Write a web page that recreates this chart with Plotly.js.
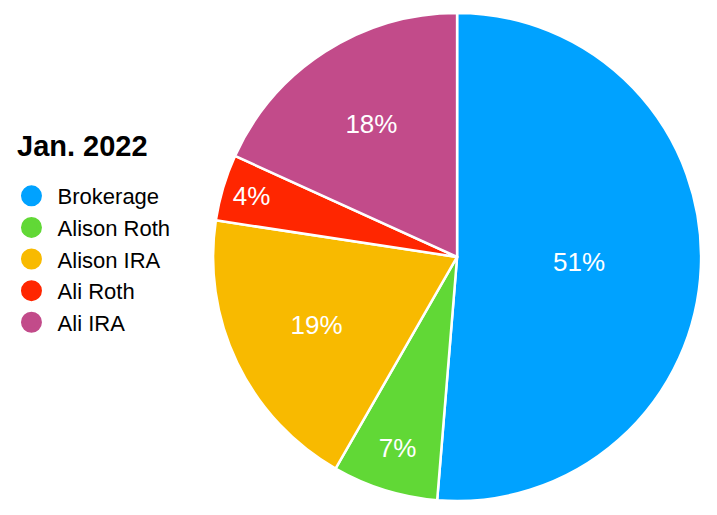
<!DOCTYPE html>
<html>
<head>
<meta charset="utf-8">
<script src="https://cdn.plot.ly/plotly-3.0.1.min.js"></script>
<style>html,body{margin:0;padding:0;background:#fff;}#chart{width:717px;height:515px;}</style>
</head>
<body>
<div id="chart"></div>
<script>
const labels = ["Brokerage", "Alison Roth", "Alison IRA", "Ali Roth", "Ali IRA"];
const values = [51.3, 7.0, 19.1, 4.4, 18.2];
const colors = ["#00A2FF", "#61D836", "#F8BA00", "#FF2600", "#C24B8A"];
const legendTitle = "Jan. 2022";

const FONT = "Helvetica, Arial, 'Liberation Sans', sans-serif";

const pie = {
  type: "pie",
  labels: labels,
  values: values,
  sort: false,
  direction: "clockwise",
  rotation: 0,
  marker: { colors: colors, line: { color: "#ffffff", width: 2.5 } },
  texttemplate: "%{percent:.0%}",
  textposition: "inside",
  insidetextorientation: "horizontal",
  textfont: { color: "#ffffff", size: 26, family: FONT },
  hoverinfo: "label+percent",
  showlegend: false,
  domain: { x: [0.297, 0.978], y: [0.0272, 0.9748] }
};

const legendTraces = labels.map((name, i) => ({
  type: "scatter",
  mode: "markers",
  x: [null], y: [null],
  name: "\u00A0" + name,
  marker: { color: colors[i], size: 16, symbol: "circle", line: { color: colors[i], width: 5 } },
  showlegend: true,
  hoverinfo: "skip"
}));

const layout = {
  width: 717, height: 515,
  margin: { l: 0, r: 0, t: 0, b: 0 },
  paper_bgcolor: "#ffffff",
  plot_bgcolor: "#ffffff",
  font: { family: FONT, color: "#000000" },
  xaxis: { visible: false },
  yaxis: { visible: false },
  showlegend: true,
  legend: {
    x: 0.016, xanchor: "left",
    y: 0.497, yanchor: "middle",
    font: { size: 22, family: FONT, color: "#000" },
    bgcolor: "rgba(0,0,0,0)",
    itemclick: false
  },
  annotations: [{
    text: "<b>" + legendTitle + "</b>",
    xref: "paper", yref: "paper",
    x: 0.021, xanchor: "left",
    y: 0.7165, yanchor: "middle",
    showarrow: false,
    font: { size: 29, family: FONT, color: "#000" }
  }]
};

Plotly.newPlot("chart", [pie].concat(legendTraces), layout, { displayModeBar: false, staticPlot: true });
</script>
</body>
</html>
